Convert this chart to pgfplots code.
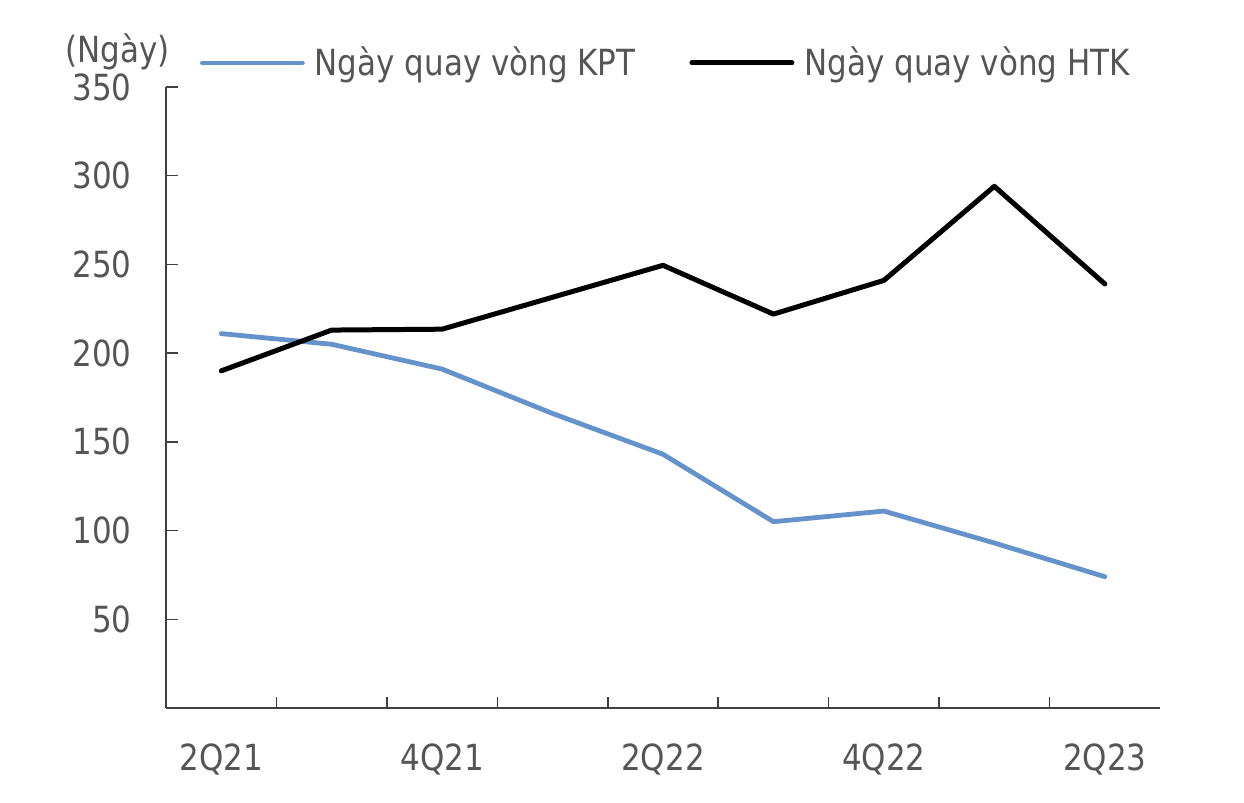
\documentclass[border=0pt]{standalone}
\usepackage{fontspec}
\setmainfont[FakeStretch=0.86]{DejaVu Sans}
\usepackage{pgfplots}
\pgfplotsset{compat=1.18}
\definecolor{txtgray}{HTML}{555555}
\definecolor{axgray}{HTML}{404040}
\definecolor{kpt}{RGB}{100,146,203}
\newcommand{\lblfont}{\fontsize{18}{21}\selectfont}

\begin{document}
\begin{tikzpicture}
\begin{axis}[
  scale only axis,
  width=497pt, height=310.5pt,
  xmin=-0.5, xmax=8.5,
  ymin=0, ymax=350,
  axis lines=left,
  axis line style={-, axgray, line width=0.75pt},
  tick style={axgray, line width=0.75pt},
  tick align=inside,
  ytick={50,100,...,350},
  major tick length=6pt,
  xtick={0,2,4,6,8},
  xticklabels={2Q21,4Q21,2Q22,4Q22,2Q23},
  x tick style={draw=none},
  minor xtick={0.5,1.5,...,7.5},
  minor x tick style={draw=axgray, line width=0.75pt},
  minor tick length=5.5pt,
  /pgf/number format/assume math mode=true,
  ticklabel style={font=\lblfont, text=txtgray, inner sep=0pt},
  yticklabel style={anchor=east, xshift=-17pt},
  xticklabel style={anchor=base, yshift=-31pt},
  legend columns=2,
  legend style={draw=none, fill=none, inner sep=0pt, outer sep=0pt,
    at={(axis description cs:0,1)}, anchor=west, xshift=17pt, yshift=12pt,
    font=\lblfont, text=txtgray,
    nodes={inner sep=0pt},
    /tikz/every odd column/.append style={column sep=5pt},
    /tikz/every even column/.append style={column sep=27pt}},
  legend image code/.code={\draw[#1] (0pt,0pt) -- (50pt,0pt);},
]
\addplot[kpt, line width=2.4pt, line cap=round, line join=round] coordinates {
  (0,211) (1,205) (2,191) (3,166) (4,143) (5,105) (6,111) (7,93) (8,74)};
\addlegendentry{Ngày quay vòng KPT}
\addplot[black, line width=2.5pt, line cap=round, line join=round] coordinates {
  (0,190) (1,213) (2,213.5) (3,231.5) (4,249.5) (5,222) (6,241) (7,294) (8,239)};
\addlegendentry{Ngày quay vòng HTK}
\coordinate (ll) at (rel axis cs:0,0);
\coordinate (ul) at (rel axis cs:0,1);
\coordinate (ur) at (rel axis cs:1,1);
\end{axis}
\node[anchor=base east, inner sep=0pt, font=\lblfont, text=txtgray]
  at ([xshift=2pt, yshift=12pt]ul) {(Ngày)};
\path ([xshift=-83pt, yshift=-47pt]ll) rectangle ([xshift=42pt, yshift=43.5pt]ur);
\end{tikzpicture}
\end{document}
